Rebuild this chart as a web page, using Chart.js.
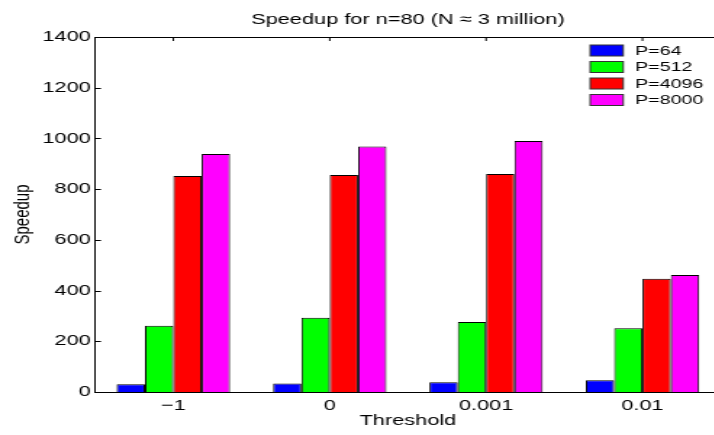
<!DOCTYPE html>
<html lang="en">
<head>
<meta charset="UTF-8">
<title>Speedup for n=80</title>
<script src="https://cdn.jsdelivr.net/npm/chart.js"></script>
<style>
body{margin:0;background:#fff;overflow:hidden;width:714px;height:435px;}
/* the original figure is stretched sideways, text included */
#wrap{width:505px;height:435px;transform:scaleX(1.45);transform-origin:0 0;}
</style>
</head>
<body>
<div id="wrap"><canvas id="speedChart" width="505" height="435"></canvas></div>
<script>

const thresholds=['\u22121','0','0.001','0.01'];
const seriesNames=['P=64','P=512','P=4096','P=8000'];
const p64=[31,34,38,46];
const p512=[261,293,276,251];
const p4096=[852,856,860,447];
const p8000=[939,968,990,461];
const yMin=0, yMax=1400, yStep=200;

const colors=['#0000ff','#00ff00','#ff0000','#ff00ff'];
const font='"Liberation Sans", Arial, sans-serif';

// box, inward ticks and legend like the matlab figure
const frame={
    id:'frame',
    afterDraw(chart){
        const {ctx,chartArea:a,scales}=chart;
        ctx.save();
        ctx.strokeStyle='#000';
        ctx.lineWidth=1;
        ctx.beginPath();
        ctx.moveTo(a.left,a.top+0.5);
        ctx.lineTo(a.right+20,a.top+0.5);
        scales.y.ticks.forEach(t=>{
            const y=Math.round(scales.y.getPixelForValue(t.value))+0.5;
            ctx.moveTo(a.left,y);
            ctx.lineTo(a.left+4,y);
        });
        thresholds.forEach((c,i)=>{
            const x=scales.x.getPixelForValue(i);
            ctx.moveTo(x,a.top);
            ctx.lineTo(x,a.top+4);
        });
        ctx.stroke();

        ctx.font='13.5px '+font;
        ctx.textBaseline='middle';
        chart.data.datasets.forEach((ds,i)=>{
            const yc=50.5+i*16.5;
            ctx.fillStyle=ds.backgroundColor;
            ctx.fillRect(407,yc-5.5,22.8,11);
            ctx.strokeStyle='#333';
            ctx.strokeRect(407,yc-5.5,22.8,11);
            ctx.fillStyle='#000';
            ctx.fillText(ds.label,438,yc+0.5);
        });
        ctx.restore();
    }
};

const ctx=document.getElementById('speedChart').getContext('2d');

new Chart(ctx,{
    type:'bar',
    data:{
        labels:thresholds,
        datasets:[p64,p512,p4096,p8000].map((d,i)=>({
            label:seriesNames[i],
            data:d,
            backgroundColor:colors[i],
            borderColor:'#000',
            borderWidth:1,
            barPercentage:1.0,
            categoryPercentage:0.725
        }))
    },
    options:{
        responsive:false,
        animation:false,
        devicePixelRatio:1,
        layout:{padding:{left:0,right:8,top:0,bottom:0}},
        plugins:{
            legend:{display:false},
            tooltip:{enabled:false},
            title:{
                display:true,
                fullSize:false,
                text:'Speedup for n=80 (N \u2248 3 million)',
                color:'#000',
                font:{family:font,size:15,weight:'normal'},
                padding:{top:11,bottom:8}
            }
        },
        scales:{
            x:{
                grid:{display:false,drawTicks:false},
                border:{display:true,color:'#000',width:1},
                ticks:{color:'#000',padding:5,font:{family:font,size:15}},
                title:{display:true,text:'Threshold',color:'#000',font:{family:font,size:15},padding:{top:0,bottom:5}},
                afterFit(s){s.height=43;}
            },
            y:{
                min:yMin,max:yMax,
                grid:{display:false,drawTicks:false},
                border:{display:true,color:'#000',width:1},
                ticks:{stepSize:yStep,color:'#000',padding:3,font:{family:font,size:15},callback:v=>String(v)},
                title:{display:true,text:'Speedup',color:'#000',font:{family:font,size:15},padding:{top:7,bottom:0}},
                afterFit(s){s.width=65.6;}
            }
        }
    },
    plugins:[frame]
});

</script>
</body>
</html>
